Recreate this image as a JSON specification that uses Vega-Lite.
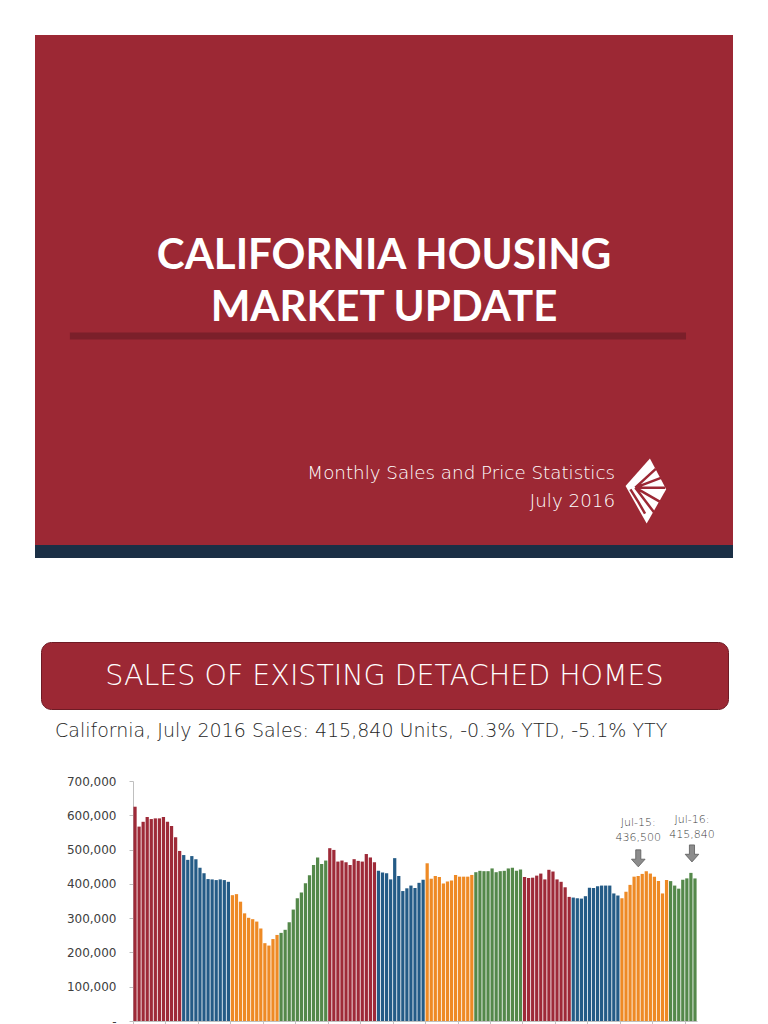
{
  "$schema": "https://vega.github.io/schema/vega-lite/v6.json",
  "padding": {"left": 35, "top": 35, "right": 35, "bottom": 0},
  "background": "white",
  "spacing": 0,
  "config": {"view": {"stroke": null}, "font": "Lato", "concat": {"spacing": 0}, "axis": {"labelOverlap": false}},
  "datasets": {
    "sales": [
      {"m":"2005-01","yr":"2005","v":625000},{"m":"2005-02","yr":"2005","v":567000},{"m":"2005-03","yr":"2005","v":581000},{"m":"2005-04","yr":"2005","v":595000},{"m":"2005-05","yr":"2005","v":589000},{"m":"2005-06","yr":"2005","v":591000},{"m":"2005-07","yr":"2005","v":591000},{"m":"2005-08","yr":"2005","v":595000},{"m":"2005-09","yr":"2005","v":581000},{"m":"2005-10","yr":"2005","v":569000},{"m":"2005-11","yr":"2005","v":536000},{"m":"2005-12","yr":"2005","v":496000},
      {"m":"2006-01","yr":"2006","v":484000},{"m":"2006-02","yr":"2006","v":470000},{"m":"2006-03","yr":"2006","v":481000},{"m":"2006-04","yr":"2006","v":472000},{"m":"2006-05","yr":"2006","v":447000},{"m":"2006-06","yr":"2006","v":431000},{"m":"2006-07","yr":"2006","v":414000},{"m":"2006-08","yr":"2006","v":413000},{"m":"2006-09","yr":"2006","v":411000},{"m":"2006-10","yr":"2006","v":413000},{"m":"2006-11","yr":"2006","v":411000},{"m":"2006-12","yr":"2006","v":406000},
      {"m":"2007-01","yr":"2007","v":367000},{"m":"2007-02","yr":"2007","v":370000},{"m":"2007-03","yr":"2007","v":348000},{"m":"2007-04","yr":"2007","v":314000},{"m":"2007-05","yr":"2007","v":301000},{"m":"2007-06","yr":"2007","v":297000},{"m":"2007-07","yr":"2007","v":290000},{"m":"2007-08","yr":"2007","v":270000},{"m":"2007-09","yr":"2007","v":227000},{"m":"2007-10","yr":"2007","v":220000},{"m":"2007-11","yr":"2007","v":239000},{"m":"2007-12","yr":"2007","v":251000},
      {"m":"2008-01","yr":"2008","v":257000},{"m":"2008-02","yr":"2008","v":266000},{"m":"2008-03","yr":"2008","v":288000},{"m":"2008-04","yr":"2008","v":325000},{"m":"2008-05","yr":"2008","v":358000},{"m":"2008-06","yr":"2008","v":375000},{"m":"2008-07","yr":"2008","v":402000},{"m":"2008-08","yr":"2008","v":425000},{"m":"2008-09","yr":"2008","v":455000},{"m":"2008-10","yr":"2008","v":477000},{"m":"2008-11","yr":"2008","v":458000},{"m":"2008-12","yr":"2008","v":468000},
      {"m":"2009-01","yr":"2009","v":504000},{"m":"2009-02","yr":"2009","v":499000},{"m":"2009-03","yr":"2009","v":465000},{"m":"2009-04","yr":"2009","v":468000},{"m":"2009-05","yr":"2009","v":463000},{"m":"2009-06","yr":"2009","v":455000},{"m":"2009-07","yr":"2009","v":472000},{"m":"2009-08","yr":"2009","v":467000},{"m":"2009-09","yr":"2009","v":465000},{"m":"2009-10","yr":"2009","v":487000},{"m":"2009-11","yr":"2009","v":477000},{"m":"2009-12","yr":"2009","v":463000},
      {"m":"2010-01","yr":"2010","v":438000},{"m":"2010-02","yr":"2010","v":433000},{"m":"2010-03","yr":"2010","v":431000},{"m":"2010-04","yr":"2010","v":413000},{"m":"2010-05","yr":"2010","v":475000},{"m":"2010-06","yr":"2010","v":423000},{"m":"2010-07","yr":"2010","v":379000},{"m":"2010-08","yr":"2010","v":387000},{"m":"2010-09","yr":"2010","v":395000},{"m":"2010-10","yr":"2010","v":388000},{"m":"2010-11","yr":"2010","v":403000},{"m":"2010-12","yr":"2010","v":412000},
      {"m":"2011-01","yr":"2011","v":460000},{"m":"2011-02","yr":"2011","v":415000},{"m":"2011-03","yr":"2011","v":423000},{"m":"2011-04","yr":"2011","v":420000},{"m":"2011-05","yr":"2011","v":401000},{"m":"2011-06","yr":"2011","v":407000},{"m":"2011-07","yr":"2011","v":410000},{"m":"2011-08","yr":"2011","v":426000},{"m":"2011-09","yr":"2011","v":421000},{"m":"2011-10","yr":"2011","v":421000},{"m":"2011-11","yr":"2011","v":421000},{"m":"2011-12","yr":"2011","v":426000},
      {"m":"2012-01","yr":"2012","v":434000},{"m":"2012-02","yr":"2012","v":438000},{"m":"2012-03","yr":"2012","v":437000},{"m":"2012-04","yr":"2012","v":437000},{"m":"2012-05","yr":"2012","v":445000},{"m":"2012-06","yr":"2012","v":434000},{"m":"2012-07","yr":"2012","v":437000},{"m":"2012-08","yr":"2012","v":438000},{"m":"2012-09","yr":"2012","v":445000},{"m":"2012-10","yr":"2012","v":447000},{"m":"2012-11","yr":"2012","v":438000},{"m":"2012-12","yr":"2012","v":442000},
      {"m":"2013-01","yr":"2013","v":420000},{"m":"2013-02","yr":"2013","v":417000},{"m":"2013-03","yr":"2013","v":418000},{"m":"2013-04","yr":"2013","v":424000},{"m":"2013-05","yr":"2013","v":430000},{"m":"2013-06","yr":"2013","v":413000},{"m":"2013-07","yr":"2013","v":441000},{"m":"2013-08","yr":"2013","v":436000},{"m":"2013-09","yr":"2013","v":413000},{"m":"2013-10","yr":"2013","v":406000},{"m":"2013-11","yr":"2013","v":390000},{"m":"2013-12","yr":"2013","v":362000},
      {"m":"2014-01","yr":"2014","v":360000},{"m":"2014-02","yr":"2014","v":358000},{"m":"2014-03","yr":"2014","v":357000},{"m":"2014-04","yr":"2014","v":364000},{"m":"2014-05","yr":"2014","v":389000},{"m":"2014-06","yr":"2014","v":388000},{"m":"2014-07","yr":"2014","v":393000},{"m":"2014-08","yr":"2014","v":395000},{"m":"2014-09","yr":"2014","v":395000},{"m":"2014-10","yr":"2014","v":395000},{"m":"2014-11","yr":"2014","v":372000},{"m":"2014-12","yr":"2014","v":366000},
      {"m":"2015-01","yr":"2015","v":358000},{"m":"2015-02","yr":"2015","v":377000},{"m":"2015-03","yr":"2015","v":397000},{"m":"2015-04","yr":"2015","v":421000},{"m":"2015-05","yr":"2015","v":423000},{"m":"2015-06","yr":"2015","v":429000},{"m":"2015-07","yr":"2015","v":436500},{"m":"2015-08","yr":"2015","v":430000},{"m":"2015-09","yr":"2015","v":421000},{"m":"2015-10","yr":"2015","v":408000},{"m":"2015-11","yr":"2015","v":372000},{"m":"2015-12","yr":"2015","v":411000},
      {"m":"2016-01","yr":"2016","v":408000},{"m":"2016-02","yr":"2016","v":395000},{"m":"2016-03","yr":"2016","v":386000},{"m":"2016-04","yr":"2016","v":412000},{"m":"2016-05","yr":"2016","v":416000},{"m":"2016-06","yr":"2016","v":432000},{"m":"2016-07","yr":"2016","v":415840}
    ],
    "notes": [
      {"m":"2015-07","v":436500,"t":"Jul-15:\n436,500"},
      {"m":"2016-07","v":415840,"t":"Jul-16:\n415,840"}
    ]
  },
  "vconcat": [
    {
      "width": 698,
      "height": 510,
      "view": {"fill": "#9c2834"},
      "data": {"values": [{"title": "CALIFORNIA HOUSING\nMARKET UPDATE", "sub": "Monthly Sales and Price Statistics\nJuly 2016"}]},
      "layer": [
        {
          "mark": {"type": "text", "lineBreak": "\n", "lineHeight": 52, "font": "Lato", "fontWeight": "bold", "fontSize": 42, "color": "white", "align": "center", "baseline": "middle"},
          "encoding": {
            "text": {"field": "title"},
            "x": {"datum": 0.5, "type": "quantitative", "scale": {"domain": [0, 1]}, "axis": null},
            "y": {"datum": 0.433, "type": "quantitative", "scale": {"domain": [0, 1], "reverse": true}, "axis": null}
          }
        },
        {
          "mark": {"type": "rule", "color": "#7b1f2a", "strokeWidth": 7},
          "encoding": {
            "x": {"datum": 0.05, "type": "quantitative"},
            "x2": {"datum": 0.9327},
            "y": {"datum": 0.59, "type": "quantitative"}
          }
        },
        {
          "mark": {"type": "text", "lineBreak": "\n", "lineHeight": 28, "font": "DejaVu Sans", "fontWeight": 200, "fontSize": 18.3, "color": "white", "align": "right", "baseline": "middle"},
          "encoding": {
            "text": {"field": "sub"},
            "x": {"datum": 0.831, "type": "quantitative"},
            "y": {"datum": 0.861, "type": "quantitative"}
          }
        },
        {
          "mark": {"type": "point", "shape": "M0.15,-1 L0.65,-0.05 L0.05,1 L-0.6,-0.15 Z", "size": 4225, "filled": true, "fill": "white", "strokeWidth": 0, "opacity": 1},
          "encoding": {
            "x": {"datum": 0.874, "type": "quantitative"},
            "y": {"datum": 0.894, "type": "quantitative"}
          }
        },
        {
          "mark": {"type": "point", "shape": "M-0.3,-0.1 L0.33,-0.68 M-0.3,-0.1 L0.49,-0.4 M-0.3,-0.1 L0.62,-0.1 M-0.3,-0.1 L0.45,0.33 M-0.3,-0.1 L0.27,0.65 M-0.45,-0.05 L-0.2,0.35 L0.0,0.7", "size": 4225, "filled": false, "stroke": "#9c2834", "strokeWidth": 2.5, "opacity": 1},
          "encoding": {
            "x": {"datum": 0.874, "type": "quantitative"},
            "y": {"datum": 0.894, "type": "quantitative"}
          }
        }
      ]
    },
    {
      "width": 698,
      "height": 13,
      "view": {"fill": "#1b2f45"},
      "data": {"values": []},
      "mark": "point",
      "encoding": {}
    },
    {
      "width": 698,
      "height": 83,
      "data": {"values": []},
      "mark": "point",
      "encoding": {}
    },
    {
      "spacing": 0,
      "hconcat": [
        {
          "width": 5,
          "height": 67,
          "data": {"values": []},
          "mark": "point",
          "encoding": {}
        },
        {
          "width": 687,
          "height": 67,
          "view": {"fill": "#9c2834", "stroke": "#6e1b25", "strokeWidth": 1, "cornerRadius": 10},
          "data": {"values": [{"label": "SALES OF EXISTING DETACHED HOMES"}]},
          "mark": {"type": "text", "font": "DejaVu Sans", "fontWeight": 200, "fontSize": 28.5, "color": "white", "align": "center", "baseline": "middle"},
          "encoding": {"text": {"field": "label"}}
        }
      ]
    },
    {
      "width": 698,
      "height": 12,
      "data": {"values": []},
      "mark": "point",
      "encoding": {}
    },
    {
      "spacing": 0,
      "hconcat": [
        {
          "width": 20,
          "height": 10,
          "data": {"values": []},
          "mark": "point",
          "encoding": {}
        },
        {
          "width": 564,
          "height": 240,
          "title": {"text": "California, July 2016 Sales: 415,840 Units, -0.3% YTD, -5.1% YTY", "anchor": "start", "frame": "group", "dx": -78, "offset": 34, "fontSize": 19, "font": "DejaVu Sans", "fontWeight": 200, "color": "#262626"},
          "layer": [
            {
              "data": {"name": "sales"},
              "mark": {"type": "bar"},
              "encoding": {
                "x": {"field": "m", "type": "ordinal", "scale": {"paddingInner": 0.2, "paddingOuter": 0.1},
                  "axis": {"title": null, "labels": false, "bandPosition": 0, "tickSize": 3, "tickColor": "#bfbfbf", "domainColor": "#bfbfbf",
                    "values": ["2005-01","2005-09","2006-05","2007-01","2007-09","2008-05","2009-01","2009-09","2010-05","2011-01","2011-09","2012-05","2013-01","2013-09","2014-05","2015-01","2015-09","2016-05"]}},
                "y": {"field": "v", "type": "quantitative", "scale": {"domain": [0, 700000]},
                  "axis": {"title": null, "values": [0,100000,200000,300000,400000,500000,600000,700000], "tickCount": 10, "labelOverlap": false, "labelExpr": "datum.value == 0 ? '-\u00a0\u00a0' : format(datum.value, ',')", "grid": false, "tickSize": 4, "labelPadding": 13, "labelFont": "DejaVu Sans", "labelFontSize": 12, "labelColor": "#404040", "domainColor": "#bfbfbf", "tickColor": "#bfbfbf"}},
                "color": {"field": "yr", "type": "nominal", "legend": null,
                  "scale": {"domain": ["2005","2006","2007","2008","2009","2010","2011","2012","2013","2014","2015","2016"],
                    "range": ["#9e2a38","#245b86","#ee8a25","#54884a","#9e2a38","#245b86","#ee8a25","#54884a","#9e2a38","#245b86","#ee8a25","#54884a"]}}
              }
            },
            {
              "data": {"name": "notes"},
              "transform": [{"filter": "datum.m == '2015-07'"}],
              "mark": {"type": "text", "lineBreak": "\n", "lineHeight": 15, "fontSize": 11, "font": "DejaVu Sans", "fontWeight": 200, "color": "#404040", "baseline": "middle", "xOffset": -8, "yOffset": -48},
              "encoding": {
                "x": {"field": "m", "type": "ordinal"},
                "y": {"field": "v", "type": "quantitative"},
                "text": {"field": "t"}
              }
            },
            {
              "data": {"name": "notes"},
              "transform": [{"filter": "datum.m == '2016-07'"}],
              "mark": {"type": "text", "lineBreak": "\n", "lineHeight": 15, "fontSize": 11, "font": "DejaVu Sans", "fontWeight": 200, "color": "#404040", "baseline": "middle", "xOffset": -3, "yOffset": -58},
              "encoding": {
                "x": {"field": "m", "type": "ordinal"},
                "y": {"field": "v", "type": "quantitative"},
                "text": {"field": "t"}
              }
            },
            {
              "data": {"name": "notes"},
              "transform": [{"filter": "datum.m == '2015-07'"}],
              "mark": {"type": "point", "shape": "M-0.3,-1 L0.3,-1 L0.3,0.1 L0.8,0.1 L0,1 L-0.8,0.1 L-0.3,0.1 Z", "size": 289, "filled": true, "fill": "#8c8c8c", "stroke": "#5a5a5a", "strokeWidth": 0.8, "opacity": 1, "xOffset": -8, "yOffset": -13},
              "encoding": {
                "x": {"field": "m", "type": "ordinal"},
                "y": {"field": "v", "type": "quantitative"}
              }
            },
            {
              "data": {"name": "notes"},
              "transform": [{"filter": "datum.m == '2016-07'"}],
              "mark": {"type": "point", "shape": "M-0.3,-1 L0.3,-1 L0.3,0.1 L0.8,0.1 L0,1 L-0.8,0.1 L-0.3,0.1 Z", "size": 289, "filled": true, "fill": "#8c8c8c", "stroke": "#5a5a5a", "strokeWidth": 0.8, "opacity": 1, "xOffset": -3, "yOffset": -25},
              "encoding": {
                "x": {"field": "m", "type": "ordinal"},
                "y": {"field": "v", "type": "quantitative"}
              }
            }
          ]
        }
      ]
    }
  ]
}
